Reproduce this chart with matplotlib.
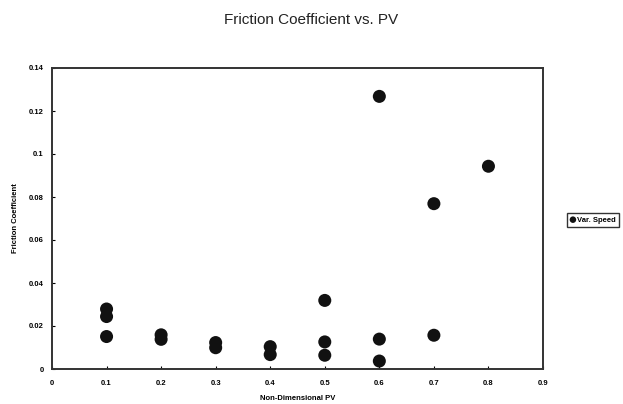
import numpy as np
import matplotlib.pyplot as plt

# non-dimensional PV vs friction coefficient (Var. Speed)
pv = [0.1, 0.1, 0.1, 0.2, 0.2, 0.3, 0.3, 0.4, 0.4, 0.5, 0.5, 0.5, 0.6, 0.6, 0.6, 0.7, 0.7, 0.8]
friction = [0.0279, 0.0244, 0.0151, 0.0159, 0.0138, 0.0123, 0.0099, 0.0104, 0.0067,
            0.0319, 0.0126, 0.0064, 0.1268, 0.0139, 0.0037, 0.0769, 0.0157, 0.0943]

xticks = [0, 0.1, 0.2, 0.3, 0.4, 0.5, 0.6, 0.7, 0.8, 0.9]
xticklabels = ['0', '0.1', '0.2', '0.3', '0.4', '0.5', '0.6', '0.7', '0.8', '0.9']
yticks = [0, 0.02, 0.04, 0.06, 0.08, 0.1, 0.12, 0.14]
yticklabels = ['0', '0.02', '0.04', '0.06', '0.08', '0.1', '0.12', '0.14']

plt.rcParams['font.family'] = ['Liberation Sans', 'DejaVu Sans']

fig = plt.figure(figsize=(6.23, 4.04), dpi=100)
ax = fig.add_axes([52 / 623, 35 / 404, 491 / 623, 301 / 404])

ax.scatter(pv, friction, s=88, color='#111111', edgecolors='none', label='Var. Speed', zorder=3)

ax.set_xlim(0, 0.9)
ax.set_ylim(0, 0.14)
ax.set_xticks(xticks)
ax.set_xticklabels(xticklabels, fontsize=5.5, fontweight='bold')
ax.set_yticks(yticks)
ax.set_yticklabels(yticklabels, fontsize=5.5, fontweight='bold')
ax.tick_params(axis='x', length=2, width=0.8, pad=8, direction='in')
ax.tick_params(axis='y', length=2, width=0.8, pad=6, direction='in')
for s in ax.spines.values():
    s.set_linewidth(1.4)
    s.set_color('#333333')

ax.set_xlabel('Non-Dimensional PV', fontsize=5.5, fontweight='bold', labelpad=6)
ax.set_ylabel('Friction Coefficient', fontsize=5.5, fontweight='bold', labelpad=7)

fig.text(0.5, 1 - 20 / 404, 'Friction Coefficient vs. PV', ha='center', va='center', fontsize=11, color='#222222')

fig.legend(loc='center left', bbox_to_anchor=(563 / 623, 1 - 220 / 404),
           markerscale=0.5, handletextpad=0.1, handlelength=0.8, borderpad=0.4, fancybox=False,
           edgecolor='#333333', framealpha=1, prop={'weight': 'bold', 'size': 5.5})

fig.savefig('out.png', dpi=100)
